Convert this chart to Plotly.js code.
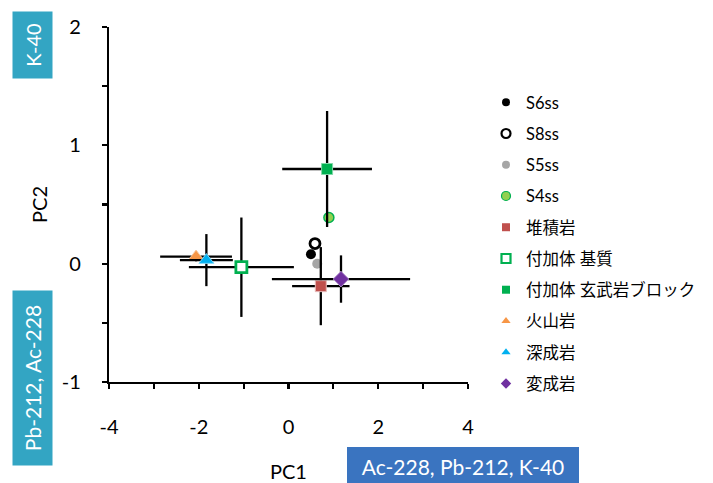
<!DOCTYPE html>
<html>
<head>
<meta charset="utf-8">
<script src="https://cdn.plot.ly/plotly-3.0.1.min.js"></script>
<style>html,body{margin:0;padding:0;background:#fff;}#chart{width:713px;height:483px;}</style>
</head>
<body>
<div id="chart"></div>
<script>
const names = ['S6ss','S8ss','S5ss','S4ss','堆積岩','付加体 基質','付加体 玄武岩ブロック','火山岩','深成岩','変成岩'];
const pc1 = [0.50, 0.59, 0.64, 0.90, 0.72, -1.05, 0.86, -2.06, -1.83, 1.17];
const pc2 = [0.08, 0.17, 0.00, 0.39, -0.19, -0.03, 0.80, 0.06, 0.03, -0.13];
const errPC1 = [null, null, null, null, 0.64, 1.17, 1.00, 0.80, 0.59, 1.54];
const errPC2 = [null, null, null, null, 0.33, 0.42, 0.49, 0.04, 0.22, 0.20];
const xTicks = [-4, -2, 0, 2, 4];
const yTicks = [-1, 0, 1, 2];

const symbols = ['circle','circle-open','circle','circle','square','square','square','triangle-up','triangle-up','diamond'];
const fills = ['#000000','#000000','#A6A6A6','#92D050','#C0504D','#FFFFFF','#00B050','#F79646','#00B0F0','#7030A0'];
const edges = ['#000000','#000000','#A6A6A6','#00B050','#E6B9B8','#00B050','#7FD7A7','#FBCBA2','#7FD7F7','#B797CF'];
const edgeW = [0, 2.8, 0, 1.5, 1, 2.8, 1, 1, 1, 1];
const sizes = [10, 10, 10, 10, 11, 11, 11, 13, 13, 12];
const legendSizes = [8, 9, 8, 9, 8, 9, 8, 8, 8, 8];
const legendEdgeW = [0, 2.2, 0, 1.2, 0, 2.2, 0, 0, 0, 0];

const FONT = "Lato, 'Noto Sans CJK JP', sans-serif";

const dataTraces = names.map((n, i) => ({
  type: 'scatter',
  mode: 'markers',
  name: n,
  showlegend: false,
  x: [pc1[i]],
  y: [pc2[i]],
  marker: {symbol: symbols[i], size: sizes[i], color: fills[i], line: {width: edgeW[i], color: edges[i]}},
  error_x: {type:'data', array:[errPC1[i]], visible: errPC1[i] !== null, thickness:2.3, width:0, color:'#000000'},
  error_y: {type:'data', array:[errPC2[i]], visible: errPC2[i] !== null, thickness:2.3, width:0, color:'#000000'},
  hoverinfo: 'x+y+name'
}));

// legend-only entries (smaller symbols, as in the reference legend)
const legendTraces = names.map((n, i) => ({
  type: 'scatter',
  mode: 'markers',
  name: n,
  legendgroup: 'g' + i,
  showlegend: true,
  x: [null],
  y: [null],
  marker: {symbol: symbols[i], size: legendSizes[i], color: fills[i], line: {width: legendEdgeW[i], color: edges[i]}},
  hoverinfo: 'skip'
}));

const L = 109, R = 468, T = 27, B = 382;
const px = v => (v - L) / (R - L);
const py = v => (B - v) / (B - T);

const layout = {
  width: 713, height: 483,
  margin: {l: L, r: 713 - R, t: T, b: 483 - B, pad: 0},
  paper_bgcolor: '#FFFFFF',
  plot_bgcolor: '#FFFFFF',
  font: {family: FONT, color: '#000000', size: 20},
  showlegend: true,
  legend: {
    x: px(486), xanchor: 'left',
    y: py(85), yanchor: 'top',
    font: {family: FONT, size: 16.5, color: '#000000'},
    tracegroupgap: 6.8,
    bgcolor: 'rgba(0,0,0,0)',
    borderwidth: 0
  },
  xaxis: {
    range: [-4, 4],
    tickmode: 'array', tickvals: xTicks, ticktext: xTicks.map(String),
    showgrid: false, zeroline: false,
    showline: true, linecolor: '#000000', linewidth: 2.2,
    ticks: 'outside', ticklen: 5, tickwidth: 2.2, tickcolor: '#000000',
    minor: {dtick: 1, tick0: 0, ticks: 'outside', ticklen: 5, tickwidth: 2.2, tickcolor: '#000000', showgrid: false},
    ticklabelstandoff: 21,
    tickfont: {family: FONT, size: 20, color: '#000000'},
    title: {text: 'PC1', font: {family: FONT, size: 20, color: '#000000'}, standoff: 28},
    fixedrange: true
  },
  yaxis: {
    range: [-1, 2],
    tickmode: 'array', tickvals: yTicks, ticktext: yTicks.map(String),
    showgrid: false, zeroline: false,
    showline: true, linecolor: '#000000', linewidth: 2.2,
    ticks: 'outside', ticklen: 5, tickwidth: 2.2, tickcolor: '#000000',
    minor: {dtick: 0.5, tick0: 0, ticks: 'outside', ticklen: 5, tickwidth: 2.2, tickcolor: '#000000', showgrid: false},
    ticklabelstandoff: 17,
    tickfont: {family: FONT, size: 20, color: '#000000'},
    title: {text: 'PC2', font: {family: FONT, size: 20, color: '#000000'}, standoff: 9},
    fixedrange: true
  },
  annotations: [
    {xref:'paper', yref:'paper', x: px(32), y: py(45.5), xanchor:'center', yanchor:'middle',
     text:'K-40', textangle:-90, showarrow:false, width:67, height:40, borderpad:0, borderwidth:0,
     bgcolor:'#33A5C3', font:{family:FONT, size:20, color:'#FFFFFF'}},
    {xref:'paper', yref:'paper', x: px(32), y: py(378.5), xanchor:'center', yanchor:'middle',
     text:'Pb-212, Ac-228', textangle:-90, showarrow:false, width:175, height:40, borderpad:0, borderwidth:0,
     bgcolor:'#33A5C3', font:{family:FONT, size:21, color:'#FFFFFF'}},
    {xref:'paper', yref:'paper', x: px(463), y: py(466), xanchor:'center', yanchor:'middle',
     text:'Ac-228, Pb-212, K-40', showarrow:false, width:232, height:38, borderpad:0, borderwidth:0,
     bgcolor:'#3A74C0', font:{family:FONT, size:21, color:'#FFFFFF'}}
  ]
};

Plotly.newPlot('chart', dataTraces.concat(legendTraces), layout, {displayModeBar: false, staticPlot: true});
</script>
</body>
</html>
